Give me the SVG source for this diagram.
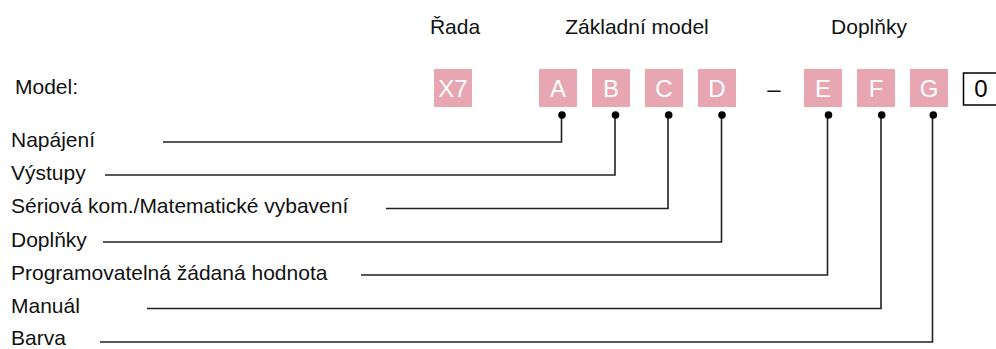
<svg xmlns="http://www.w3.org/2000/svg" width="996" height="349" viewBox="0 0 996 349">
<style>
text{font-family:"Liberation Sans",Arial,Helvetica,sans-serif;}
.lbl{font-size:21px;fill:#111;}
.hdr{font-size:21px;fill:#111;text-anchor:middle;}
.box{fill:#e8a6b2;}
.bt{font-size:24px;fill:#fff;text-anchor:middle;}
.ln{fill:none;stroke:#222;stroke-width:1.6;}
.dot{fill:#000;}
</style>
<rect width="996" height="349" fill="#fff"/>
<g id="headers">
<text class="hdr" x="455" y="34">Řada</text>
<text class="hdr" x="637" y="34">Základní model</text>
<text class="hdr" x="869" y="34">Doplňky</text>
</g>
<g id="model-label"><text class="lbl" x="15" y="94">Model:</text></g>
<g id="box-X7"><rect class="box" x="434" y="69" width="38" height="38"/><text class="bt" x="453" y="97">X7</text></g>
<g id="box-A"><rect class="box" x="539" y="69" width="38" height="38"/><text class="bt" x="558" y="97">A</text></g>
<g id="box-B"><rect class="box" x="592" y="69" width="38" height="38"/><text class="bt" x="611" y="97">B</text></g>
<g id="box-C"><rect class="box" x="645" y="69" width="38" height="38"/><text class="bt" x="664" y="97">C</text></g>
<g id="box-D"><rect class="box" x="698" y="69" width="38" height="38"/><text class="bt" x="717" y="97">D</text></g>
<g id="dash"><text x="774" y="97" style="font-size:24px;fill:#111;text-anchor:middle">–</text></g>
<g id="box-E"><rect class="box" x="804" y="69" width="38" height="38"/><text class="bt" x="823" y="97">E</text></g>
<g id="box-F"><rect class="box" x="857" y="69" width="38" height="38"/><text class="bt" x="876" y="97">F</text></g>
<g id="box-G"><rect class="box" x="910" y="69" width="38" height="38"/><text class="bt" x="929" y="97">G</text></g>
<g id="box-0"><rect x="963.5" y="73" width="40" height="32" fill="#fff" stroke="#000" stroke-width="1.5"/><text x="981" y="97" style="font-size:24px;fill:#000;text-anchor:middle">0</text></g>
<g id="labels">
<text class="lbl" x="11" y="147">Napájení</text>
<text class="lbl" x="11" y="180">Výstupy</text>
<text class="lbl" x="11" y="213">Sériová kom./Matematické vybavení</text>
<text class="lbl" x="11" y="247">Doplňky</text>
<text class="lbl" x="11" y="280">Programovatelná žádaná hodnota</text>
<text class="lbl" x="11" y="313">Manuál</text>
<text class="lbl" x="11" y="345">Barva</text>
</g>
<g id="connectors">
<polyline class="ln" points="163,142 561.5,142 561.5,115"/>
<polyline class="ln" points="105,175 615,175 615,115"/>
<polyline class="ln" points="386,208.5 668,208.5 668,115"/>
<polyline class="ln" points="103,242 721.5,242 721.5,115"/>
<polyline class="ln" points="361,275 827.5,275 827.5,115"/>
<polyline class="ln" points="147,308.5 881,308.5 881,115"/>
<polyline class="ln" points="100,342 932.5,342 932.5,115"/>
<circle class="dot" cx="562" cy="115" r="3.8"/>
<circle class="dot" cx="615.5" cy="115" r="3.8"/>
<circle class="dot" cx="668.7" cy="115" r="3.8"/>
<circle class="dot" cx="722" cy="115" r="3.8"/>
<circle class="dot" cx="828.5" cy="115" r="3.8"/>
<circle class="dot" cx="881.7" cy="115" r="3.8"/>
<circle class="dot" cx="933.3" cy="115" r="3.8"/>
</g>
</svg>
